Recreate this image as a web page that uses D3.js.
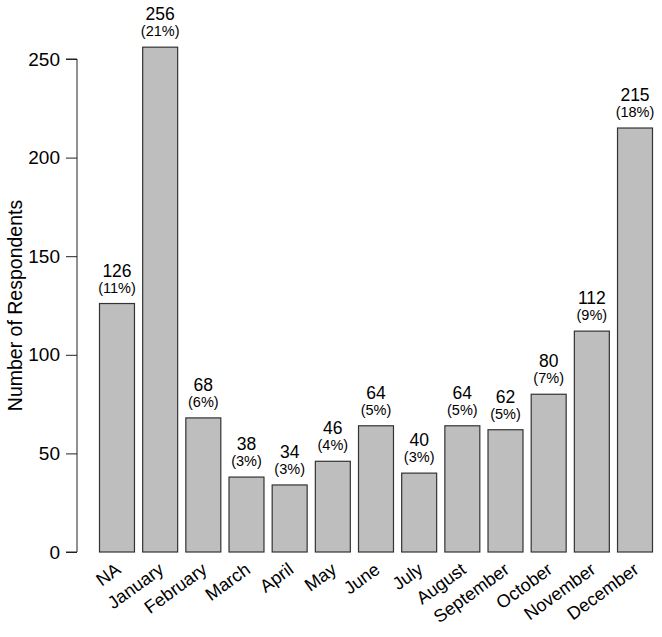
<!DOCTYPE html>
<html>
<head>
<meta charset="utf-8">
<script src="https://cdn.jsdelivr.net/npm/d3@7"></script>
<style>
  body { margin: 0; background: #fff; }
  svg text { font-family: "Liberation Sans", Arial, sans-serif; fill: #000; }
</style>
</head>
<body>
<svg width="662" height="637"></svg>
<script>
// values
const months = ['NA', 'January', 'February', 'March', 'April', 'May', 'June',
    'July', 'August', 'September', 'October', 'November', 'December'];
const counts = [126, 256, 68, 38, 34, 46, 64, 40, 64, 62, 80, 112, 215];
const percents = ['11%', '21%', '6%', '3%', '3%', '4%', '5%', '3%', '5%', '5%', '7%', '9%', '18%'];
const yTicks = [0, 50, 100, 150, 200, 250];

const $svg = d3.select('svg');

const x = d3.scaleBand()
    .domain(months)
    .range([99, 653])
    .paddingInner(1 / 6)
    .paddingOuter(0);

const y = d3.scaleLinear().domain([0, 250]).range([552, 59]);

const data = months.map((m, i) => ({month: m, count: counts[i], pct: percents[i]}));

// bars
$svg.append('g')
    .selectAll('rect')
    .data(data)
    .join('rect')
    .attr('x', (d) => x(d.month) + 0.5)
    .attr('y', (d) => y(d.count))
    .attr('width', x.bandwidth() - 1)
    .attr('height', (d) => y(0) - y(d.count))
    .attr('fill', '#bebebe')
    .attr('stroke', '#333')
    .attr('stroke-width', 1.2);

// count + percent labels above bars
const $labels = $svg.append('g').attr('text-anchor', 'middle');
$labels.selectAll('text.count')
    .data(data)
    .join('text')
    .attr('class', 'count')
    .attr('x', (d) => x(d.month) + x.bandwidth() / 2)
    .attr('y', (d) => y(d.count) - 27)
    .attr('font-size', 17.5)
    .text((d) => d.count);
$labels.selectAll('text.pct')
    .data(data)
    .join('text')
    .attr('class', 'pct')
    .attr('x', (d) => x(d.month) + x.bandwidth() / 2)
    .attr('y', (d) => y(d.count) - 11)
    .attr('font-size', 14.5)
    .text((d) => '(' + d.pct + ')');

// y axis
const yAxis = d3.axisLeft(y).tickValues(yTicks).tickSize(11).tickPadding(6);
const $ya = $svg.append('g').attr('transform', 'translate(77,0)').call(yAxis);
$ya.select('.domain').attr('d', `M-11,${y(0)}H0V${y(250)}H-11`).attr('stroke', '#222');
$ya.selectAll('.tick line').attr('stroke', '#222');
$ya.selectAll('.tick text').attr('font-size', 19).attr('font-family', '"Liberation Sans", Arial, sans-serif');

// rotated month labels
$svg.append('g')
    .selectAll('text')
    .data(months)
    .join('text')
    .attr('text-anchor', 'end')
    .attr('font-size', 18)
    .attr('transform', (d) => `translate(${x(d) + x.bandwidth() / 2 + 5},${572}) rotate(-36)`)
    .text((d) => d);

// axis title
$svg.append('text')
    .attr('text-anchor', 'middle')
    .attr('font-size', 19.5)
    .attr('transform', `translate(22,${(y(0) + y(250)) / 2}) rotate(-90)`)
    .text('Number of Respondents');
</script>
</body>
</html>
